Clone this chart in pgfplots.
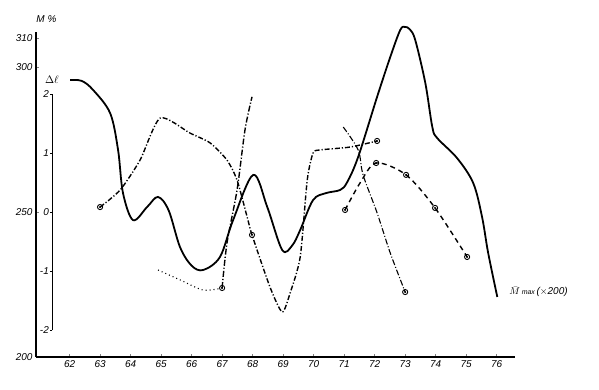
\documentclass[border=0pt]{standalone}
\usepackage{pgfplots}
\pgfplotsset{compat=1.18}
\usepackage{fontspec}
\setmainfont{Liberation Sans}
\begin{document}
\begin{tikzpicture}
\path[use as bounding box] (-36bp,-33bp) rectangle (563bp,357bp);
\begin{axis}[
  at={(0,0)}, anchor=south west,
  scale only axis, width=479bp, height=324.8bp,
  xmin=60.9, xmax=76.6, ymin=200, ymax=312,
  axis x line=bottom, axis y line=left,
  axis line style={-, line width=1.4pt},
  xtick={62,...,76}, ytick={200,250,300,310},
  tick align=inside, major tick length=3pt,
  tick style={line width=0.7pt},
  tick label style={font=\itshape\fontsize{10}{11}\selectfont},
  /pgf/number format/assume math mode=true,
  clip=false,
]
% secondary Delta l axis
\draw[line width=1.3pt] (axis cs:61.43,209.3) -- (axis cs:61.43,290.7);
\draw[line width=0.7pt] (axis cs:61.43,290.7) -- ++(-2pt,0pt) node[left,inner sep=1pt,font=\itshape\fontsize{10}{11}\selectfont]{2};
\draw[line width=0.7pt] (axis cs:61.43,270.3) -- ++(-2pt,0pt) node[left,inner sep=1pt,font=\itshape\fontsize{10}{11}\selectfont]{1};
\draw[line width=0.7pt] (axis cs:61.43,250) -- ++(-2pt,0pt) node[left,inner sep=1pt,font=\itshape\fontsize{10}{11}\selectfont]{0};
\draw[line width=0.7pt] (axis cs:61.43,229.7) -- ++(-2pt,0pt) node[left,inner sep=1pt,font=\itshape\fontsize{10}{11}\selectfont]{-1};
\draw[line width=0.7pt] (axis cs:61.43,209.3) -- ++(-2pt,0pt) node[left,inner sep=1pt,font=\itshape\fontsize{10}{11}\selectfont]{-2};
\node[font=\fontsize{11}{12}\selectfont] at (axis cs:61.42,295.5) {$\Delta\ell$};
\node[anchor=west,font=\itshape\fontsize{10}{11}\selectfont] at (axis cs:60.8,316.5) {M \%};
\node[anchor=west,font=\itshape\fontsize{10}{11}\selectfont] at (axis cs:76.3,222.5) {$\bar{M}$\,{\scriptsize max}\,($\times$200)};

% solid curve
\addplot[black, line width=1.8pt, smooth, tension=0.55] coordinates {
(62.02,295.5) (62.4,295.2) (62.77,292.1) (63.33,284.1) (63.59,271.4) (63.75,256.6)
(64.08,247.2) (64.54,251.7) (64.9,255.2) (65.25,250.5) (65.62,237.9) (66.0,231.5) (66.38,230.0)
(66.93,234.5) (67.36,247.2) (68.02,262.8) (68.48,251.7) (68.97,236.9) (69.3,238.5) (69.56,243.8)
(69.98,254.1) (70.4,256.5) (70.87,257.6) (71.1,260.3) (71.46,269.0) (72.08,289.7) (72.51,303.4)
(72.84,312.8) (73.0,313.8) (73.15,313.0) (73.33,309.3) (73.66,294.5) (73.89,279.3) (74.05,275.5)
(74.7,268.6) (75.23,260.0) (75.52,248.3) (75.72,235.9) (76.02,220.7)
};

% series A : dash-dot with crosses
\addplot[black, line width=1.4pt, smooth, tension=0.4, dash pattern=on 5pt off 2pt on 1.2pt off 2pt] coordinates {
(63.0,251.7) (63.66,257.6) (64.31,267.9) (64.97,282.4) (65.95,277.2) (66.61,273.8)
(67.16,267.9) (67.49,261.0) (67.82,248.3) (67.98,242.1) (68.57,224.1) (68.97,215.5)
(69.23,222.1) (69.56,234.5) (69.79,261.0) (69.98,270.3) (70.21,271.4) (71.2,272.4) (72.08,274.5)
};

% series B : dotted then dash-dot rising
\addplot[black, line width=1.1pt, smooth, dash pattern=on 1pt off 3pt] coordinates {
(64.9,230.0) (65.62,226.6) (66.38,223.1) (67.0,223.8)
};
\addplot[black, line width=1.4pt, smooth, dash pattern=on 6pt off 2pt on 1.2pt off 2pt] coordinates {
(67.0,223.8) (67.16,239.3) (67.49,257.6) (67.75,278.3) (67.98,289.7)
};

% series C : thin dash-dot falling
\addplot[black, line width=1.1pt, smooth, dash pattern=on 6pt off 2pt on 1pt off 2pt] coordinates {
(70.97,279.3) (71.46,271.4) (71.62,262.8) (72.08,249.7) (72.51,235.9) (73.0,222.4)
};

% series D : dashed with circles
\addplot[black, line width=1.4pt, smooth, dash pattern=on 5pt off 4pt] coordinates {
(71.03,250.7) (71.52,260.0) (72.05,266.9) (73.03,262.8) (73.98,251.4) (75.03,234.5)
};

% circle markers
\addplot[only marks, mark=o, mark size=2.6pt, mark options={line width=0.9pt, fill=white, draw=black}] coordinates {
(63.0,251.7) (67.98,242.1) (72.08,274.5) (67.0,223.8) (73.0,222.4)
(71.03,250.7) (72.05,266.9) (73.03,262.8) (73.98,251.4) (75.03,234.5)
};
\addplot[only marks, mark=*, mark size=0.8pt, black] coordinates {
(63.0,251.7) (67.98,242.1) (72.08,274.5) (67.0,223.8) (73.0,222.4)
(71.03,250.7) (72.05,266.9) (73.03,262.8) (73.98,251.4) (75.03,234.5)
};
\end{axis}
\end{tikzpicture}
\end{document}
